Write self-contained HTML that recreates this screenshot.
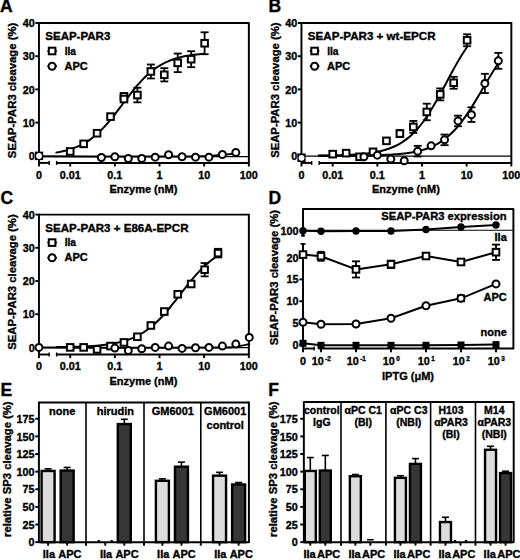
<!DOCTYPE html>
<html><head><meta charset="utf-8"><style>
html,body{margin:0;padding:0;background:#fff;}
svg{display:block;}
text{font-family:"Liberation Sans",sans-serif;font-weight:bold;stroke:#000;stroke-width:0.35px;fill:#000;}
</style></head><body>
<svg width="520" height="560" viewBox="0 0 520 560">
<rect width="520" height="560" fill="#fff"/>
<text x="0.00" y="12.30" font-size="17.5" text-anchor="start"  >A</text>
<text x="268.40" y="12.30" font-size="17.5" text-anchor="start"  >B</text>
<text x="0.60" y="204.00" font-size="17.5" text-anchor="start"  >C</text>
<text x="268.40" y="204.40" font-size="17.5" text-anchor="start"  >D</text>
<text x="0.60" y="396.10" font-size="17.5" text-anchor="start"  >E</text>
<text x="268.20" y="395.80" font-size="17.5" text-anchor="start"  >F</text>
<g>
<line x1="38.95" y1="23.00" x2="248.85" y2="23.00" stroke="#000" stroke-width="1.95" />
<line x1="38.95" y1="22.25" x2="38.95" y2="166.50" stroke="#000" stroke-width="1.95" />
<line x1="248.85" y1="22.25" x2="248.85" y2="166.50" stroke="#000" stroke-width="1.95" />
<line x1="38.95" y1="162.90" x2="49.20" y2="162.90" stroke="#000" stroke-width="1.95" />
<line x1="49.20" y1="160.90" x2="49.20" y2="164.90" stroke="#000" stroke-width="1.4" />
<line x1="56.60" y1="162.90" x2="248.85" y2="162.90" stroke="#000" stroke-width="1.95" />
<line x1="56.60" y1="160.90" x2="56.60" y2="164.90" stroke="#000" stroke-width="1.4" />
<line x1="70.20" y1="162.90" x2="70.20" y2="166.50" stroke="#000" stroke-width="1.95" />
<line x1="114.85" y1="162.90" x2="114.85" y2="166.50" stroke="#000" stroke-width="1.95" />
<line x1="159.50" y1="162.90" x2="159.50" y2="166.50" stroke="#000" stroke-width="1.95" />
<line x1="204.15" y1="162.90" x2="204.15" y2="166.50" stroke="#000" stroke-width="1.95" />
<text x="38.95" y="178.60" font-size="10.8" text-anchor="middle"  >0</text>
<text x="70.20" y="178.60" font-size="10.8" text-anchor="middle"  >0.01</text>
<text x="114.85" y="178.60" font-size="10.8" text-anchor="middle"  >0.1</text>
<text x="159.50" y="178.60" font-size="10.8" text-anchor="middle"  >1</text>
<text x="204.15" y="178.60" font-size="10.8" text-anchor="middle"  >10</text>
<text x="248.80" y="178.60" font-size="10.8" text-anchor="middle"  >100</text>
<text x="143.40" y="193.20" font-size="11" text-anchor="middle"  >Enzyme (nM)</text>
<line x1="35.35" y1="155.80" x2="38.95" y2="155.80" stroke="#000" stroke-width="1.95" />
<text x="34.75" y="159.90" font-size="10.8" text-anchor="end"  >0</text>
<line x1="35.35" y1="122.60" x2="38.95" y2="122.60" stroke="#000" stroke-width="1.95" />
<text x="34.75" y="126.70" font-size="10.8" text-anchor="end"  >10</text>
<line x1="35.35" y1="89.40" x2="38.95" y2="89.40" stroke="#000" stroke-width="1.95" />
<text x="34.75" y="93.50" font-size="10.8" text-anchor="end"  >20</text>
<line x1="35.35" y1="56.20" x2="38.95" y2="56.20" stroke="#000" stroke-width="1.95" />
<text x="34.75" y="60.30" font-size="10.8" text-anchor="end"  >30</text>
<line x1="35.35" y1="23.00" x2="38.95" y2="23.00" stroke="#000" stroke-width="1.95" />
<text x="34.75" y="27.10" font-size="10.8" text-anchor="end"  >40</text>
<text transform="translate(16.00,90.45) rotate(-90)" font-size="11.3" text-anchor="middle"  >SEAP-PAR3 cleavage (%)</text>
<text x="45.30" y="40.40" font-size="11" text-anchor="start"  textLength="65.0" lengthAdjust="spacingAndGlyphs">SEAP-PAR3</text>
<line x1="47.30" y1="51.00" x2="57.00" y2="51.00" stroke="#000" stroke-width="1.5" />
<rect x="48.80" y="47.70" width="6.6" height="6.6" fill="#fff" stroke="#000" stroke-width="2.0"/>
<text x="64.70" y="54.60" font-size="11" text-anchor="start"  textLength="11.3" lengthAdjust="spacingAndGlyphs">IIa</text>
<line x1="47.30" y1="66.20" x2="57.00" y2="66.20" stroke="#000" stroke-width="1.5" />
<circle cx="52.10" cy="66.20" r="3.5" fill="#fff" stroke="#000" stroke-width="2.0"/>
<text x="64.60" y="69.80" font-size="11" text-anchor="start"  >APC</text>
<line x1="42.95" y1="156.60" x2="248.85" y2="156.60" stroke="#000" stroke-width="1.1" />
<path d="M56.37,152.52 C56.98,152.41 58.84,152.10 60.07,151.86 C61.31,151.62 62.54,151.36 63.78,151.07 C65.01,150.78 66.25,150.47 67.49,150.13 C68.72,149.78 69.96,149.41 71.19,149.01 C72.43,148.60 73.66,148.17 74.90,147.69 C76.13,147.21 77.37,146.70 78.60,146.14 C79.84,145.58 81.07,144.98 82.31,144.33 C83.55,143.68 84.78,142.99 86.02,142.23 C87.25,141.48 88.49,140.68 89.72,139.82 C90.96,138.96 92.19,138.04 93.43,137.06 C94.66,136.08 95.90,135.05 97.13,133.95 C98.37,132.85 99.60,131.69 100.84,130.47 C102.08,129.25 103.31,127.97 104.55,126.64 C105.78,125.30 107.02,123.91 108.25,122.47 C109.49,121.03 110.72,119.54 111.96,118.01 C113.19,116.49 114.43,114.91 115.66,113.32 C116.90,111.73 118.14,110.09 119.37,108.46 C120.61,106.83 121.84,105.17 123.08,103.52 C124.31,101.88 125.55,100.22 126.78,98.59 C128.02,96.97 129.25,95.34 130.49,93.76 C131.72,92.18 132.96,90.62 134.19,89.11 C135.43,87.60 136.67,86.12 137.90,84.70 C139.14,83.28 140.37,81.91 141.61,80.60 C142.84,79.29 144.08,78.03 145.31,76.83 C146.55,75.64 147.78,74.50 149.02,73.43 C150.25,72.35 151.49,71.34 152.72,70.39 C153.96,69.43 155.20,68.54 156.43,67.70 C157.67,66.86 158.90,66.08 160.14,65.35 C161.37,64.61 162.61,63.94 163.84,63.31 C165.08,62.67 166.31,62.09 167.55,61.55 C168.78,61.01 170.02,60.51 171.26,60.05 C172.49,59.59 173.73,59.17 174.96,58.77 C176.20,58.38 177.43,58.02 178.67,57.69 C179.90,57.36 181.14,57.06 182.37,56.78 C183.61,56.50 184.84,56.25 186.08,56.02 C187.31,55.78 188.55,55.57 189.79,55.38 C191.02,55.18 192.26,55.00 193.49,54.84 C194.73,54.68 195.96,54.53 197.20,54.39 C198.43,54.26 199.67,54.13 200.90,54.02 C202.14,53.91 203.99,53.76 204.61,53.71" fill="none" stroke="#000" stroke-width="2.0" stroke-linecap="round"/>
<path d="M43.00,156.30 C55.83,156.35 95.50,156.58 120.00,156.60 C144.50,156.62 174.17,156.57 190.00,156.40 C205.83,156.23 207.42,156.07 215.00,155.60 C222.58,155.13 232.08,153.93 235.50,153.60" fill="none" stroke="#000" stroke-width="2.0" stroke-linecap="round"/>
<line x1="137.40" y1="87.74" x2="137.40" y2="102.35" stroke="#000" stroke-width="1.8" />
<line x1="133.40" y1="87.74" x2="141.40" y2="87.74" stroke="#000" stroke-width="1.8" />
<line x1="133.40" y1="102.35" x2="141.40" y2="102.35" stroke="#000" stroke-width="1.8" />
<line x1="150.85" y1="64.50" x2="150.85" y2="78.44" stroke="#000" stroke-width="1.8" />
<line x1="146.85" y1="64.50" x2="154.85" y2="64.50" stroke="#000" stroke-width="1.8" />
<line x1="146.85" y1="78.44" x2="154.85" y2="78.44" stroke="#000" stroke-width="1.8" />
<line x1="164.29" y1="68.15" x2="164.29" y2="81.43" stroke="#000" stroke-width="1.8" />
<line x1="160.29" y1="68.15" x2="168.29" y2="68.15" stroke="#000" stroke-width="1.8" />
<line x1="160.29" y1="81.43" x2="168.29" y2="81.43" stroke="#000" stroke-width="1.8" />
<line x1="177.73" y1="53.54" x2="177.73" y2="72.14" stroke="#000" stroke-width="1.8" />
<line x1="173.73" y1="53.54" x2="181.73" y2="53.54" stroke="#000" stroke-width="1.8" />
<line x1="173.73" y1="72.14" x2="181.73" y2="72.14" stroke="#000" stroke-width="1.8" />
<line x1="191.17" y1="51.22" x2="191.17" y2="67.16" stroke="#000" stroke-width="1.8" />
<line x1="187.17" y1="51.22" x2="195.17" y2="51.22" stroke="#000" stroke-width="1.8" />
<line x1="187.17" y1="67.16" x2="195.17" y2="67.16" stroke="#000" stroke-width="1.8" />
<line x1="204.61" y1="32.30" x2="204.61" y2="54.21" stroke="#000" stroke-width="1.8" />
<line x1="200.61" y1="32.30" x2="208.61" y2="32.30" stroke="#000" stroke-width="1.8" />
<line x1="200.61" y1="54.21" x2="208.61" y2="54.21" stroke="#000" stroke-width="1.8" />
<rect x="34.85" y="151.60" width="8.3" height="8.5" fill="#000"/>
<circle cx="39.05" cy="156.00" r="2.9" fill="#fff"/>
<rect x="120.66" y="93.07" width="6.6" height="6.6" fill="#fff" stroke="#000" stroke-width="2.0"/>
<rect x="66.90" y="148.18" width="6.6" height="6.6" fill="#fff" stroke="#000" stroke-width="2.0"/>
<rect x="80.34" y="140.55" width="6.6" height="6.6" fill="#fff" stroke="#000" stroke-width="2.0"/>
<rect x="93.78" y="129.92" width="6.6" height="6.6" fill="#fff" stroke="#000" stroke-width="2.0"/>
<rect x="107.22" y="113.32" width="6.6" height="6.6" fill="#fff" stroke="#000" stroke-width="2.0"/>
<rect x="120.66" y="95.73" width="6.6" height="6.6" fill="#fff" stroke="#000" stroke-width="2.0"/>
<rect x="134.10" y="91.74" width="6.6" height="6.6" fill="#fff" stroke="#000" stroke-width="2.0"/>
<rect x="147.55" y="68.17" width="6.6" height="6.6" fill="#fff" stroke="#000" stroke-width="2.0"/>
<rect x="160.99" y="71.49" width="6.6" height="6.6" fill="#fff" stroke="#000" stroke-width="2.0"/>
<rect x="174.43" y="59.54" width="6.6" height="6.6" fill="#fff" stroke="#000" stroke-width="2.0"/>
<rect x="187.87" y="55.89" width="6.6" height="6.6" fill="#fff" stroke="#000" stroke-width="2.0"/>
<rect x="201.31" y="39.95" width="6.6" height="6.6" fill="#fff" stroke="#000" stroke-width="2.0"/>
<circle cx="101.41" cy="157.46" r="3.5" fill="#fff" stroke="#000" stroke-width="2.0"/>
<circle cx="114.85" cy="156.80" r="3.5" fill="#fff" stroke="#000" stroke-width="2.0"/>
<circle cx="128.29" cy="158.46" r="3.5" fill="#fff" stroke="#000" stroke-width="2.0"/>
<circle cx="141.73" cy="158.46" r="3.5" fill="#fff" stroke="#000" stroke-width="2.0"/>
<circle cx="155.17" cy="157.13" r="3.5" fill="#fff" stroke="#000" stroke-width="2.0"/>
<circle cx="168.61" cy="154.80" r="3.5" fill="#fff" stroke="#000" stroke-width="2.0"/>
<circle cx="182.05" cy="156.80" r="3.5" fill="#fff" stroke="#000" stroke-width="2.0"/>
<circle cx="195.50" cy="157.13" r="3.5" fill="#fff" stroke="#000" stroke-width="2.0"/>
<circle cx="208.94" cy="157.13" r="3.5" fill="#fff" stroke="#000" stroke-width="2.0"/>
<circle cx="222.38" cy="154.47" r="3.5" fill="#fff" stroke="#000" stroke-width="2.0"/>
<circle cx="235.82" cy="152.48" r="3.5" fill="#fff" stroke="#000" stroke-width="2.0"/>
</g>
<line x1="301.45" y1="23.00" x2="511.35" y2="23.00" stroke="#000" stroke-width="1.95" />
<line x1="301.45" y1="22.25" x2="301.45" y2="166.50" stroke="#000" stroke-width="1.95" />
<line x1="511.35" y1="22.25" x2="511.35" y2="166.50" stroke="#000" stroke-width="1.95" />
<line x1="301.45" y1="162.90" x2="311.70" y2="162.90" stroke="#000" stroke-width="1.95" />
<line x1="311.70" y1="160.90" x2="311.70" y2="164.90" stroke="#000" stroke-width="1.4" />
<line x1="319.10" y1="162.90" x2="511.35" y2="162.90" stroke="#000" stroke-width="1.95" />
<line x1="319.10" y1="160.90" x2="319.10" y2="164.90" stroke="#000" stroke-width="1.4" />
<line x1="332.70" y1="162.90" x2="332.70" y2="166.50" stroke="#000" stroke-width="1.95" />
<line x1="377.35" y1="162.90" x2="377.35" y2="166.50" stroke="#000" stroke-width="1.95" />
<line x1="422.00" y1="162.90" x2="422.00" y2="166.50" stroke="#000" stroke-width="1.95" />
<line x1="466.65" y1="162.90" x2="466.65" y2="166.50" stroke="#000" stroke-width="1.95" />
<text x="301.45" y="178.60" font-size="10.8" text-anchor="middle"  >0</text>
<text x="332.70" y="178.60" font-size="10.8" text-anchor="middle"  >0.01</text>
<text x="377.35" y="178.60" font-size="10.8" text-anchor="middle"  >0.1</text>
<text x="422.00" y="178.60" font-size="10.8" text-anchor="middle"  >1</text>
<text x="466.65" y="178.60" font-size="10.8" text-anchor="middle"  >10</text>
<text x="511.30" y="178.60" font-size="10.8" text-anchor="middle"  >100</text>
<text x="405.90" y="193.20" font-size="11" text-anchor="middle"  >Enzyme (nM)</text>
<line x1="297.85" y1="155.80" x2="301.45" y2="155.80" stroke="#000" stroke-width="1.95" />
<text x="297.25" y="159.90" font-size="10.8" text-anchor="end"  >0</text>
<line x1="297.85" y1="122.60" x2="301.45" y2="122.60" stroke="#000" stroke-width="1.95" />
<text x="297.25" y="126.70" font-size="10.8" text-anchor="end"  >10</text>
<line x1="297.85" y1="89.40" x2="301.45" y2="89.40" stroke="#000" stroke-width="1.95" />
<text x="297.25" y="93.50" font-size="10.8" text-anchor="end"  >20</text>
<line x1="297.85" y1="56.20" x2="301.45" y2="56.20" stroke="#000" stroke-width="1.95" />
<text x="297.25" y="60.30" font-size="10.8" text-anchor="end"  >30</text>
<line x1="297.85" y1="23.00" x2="301.45" y2="23.00" stroke="#000" stroke-width="1.95" />
<text x="297.25" y="27.10" font-size="10.8" text-anchor="end"  >40</text>
<text transform="translate(279.10,90.15) rotate(-90)" font-size="11.3" text-anchor="middle"  >SEAP-PAR3 cleavage (%)</text>
<text x="307.80" y="40.40" font-size="11" text-anchor="start"  textLength="127.8" lengthAdjust="spacingAndGlyphs">SEAP-PAR3 + wt-EPCR</text>
<line x1="309.80" y1="51.00" x2="319.50" y2="51.00" stroke="#000" stroke-width="1.5" />
<rect x="311.30" y="47.70" width="6.6" height="6.6" fill="#fff" stroke="#000" stroke-width="2.0"/>
<text x="327.20" y="54.60" font-size="11" text-anchor="start"  textLength="11.3" lengthAdjust="spacingAndGlyphs">IIa</text>
<line x1="309.80" y1="66.20" x2="319.50" y2="66.20" stroke="#000" stroke-width="1.5" />
<circle cx="314.60" cy="66.20" r="3.5" fill="#fff" stroke="#000" stroke-width="2.0"/>
<text x="327.10" y="69.80" font-size="11" text-anchor="start"  >APC</text>
<line x1="305.45" y1="156.10" x2="511.35" y2="156.10" stroke="#000" stroke-width="1.1" />
<path d="M318.87,155.60 C319.48,155.59 321.34,155.57 322.57,155.55 C323.81,155.54 325.04,155.52 326.28,155.50 C327.51,155.48 328.75,155.46 329.99,155.44 C331.22,155.41 332.46,155.39 333.69,155.36 C334.93,155.33 336.16,155.30 337.40,155.27 C338.63,155.24 339.87,155.20 341.10,155.16 C342.34,155.12 343.57,155.07 344.81,155.02 C346.05,154.98 347.28,154.92 348.52,154.86 C349.75,154.80 350.99,154.74 352.22,154.67 C353.46,154.59 354.69,154.52 355.93,154.43 C357.16,154.34 358.40,154.25 359.63,154.14 C360.87,154.04 362.10,153.93 363.34,153.80 C364.58,153.67 365.81,153.54 367.05,153.39 C368.28,153.24 369.52,153.07 370.75,152.89 C371.99,152.71 373.22,152.51 374.46,152.29 C375.69,152.07 376.93,151.84 378.16,151.57 C379.40,151.31 380.64,151.03 381.87,150.71 C383.11,150.40 384.34,150.06 385.58,149.69 C386.81,149.31 388.05,148.91 389.28,148.47 C390.52,148.02 391.75,147.54 392.99,147.01 C394.22,146.49 395.46,145.92 396.69,145.30 C397.93,144.67 399.17,144.01 400.40,143.27 C401.64,142.54 402.87,141.76 404.11,140.90 C405.34,140.05 406.58,139.14 407.81,138.15 C409.05,137.16 410.28,136.10 411.52,134.96 C412.75,133.82 413.99,132.61 415.22,131.31 C416.46,130.00 417.70,128.63 418.93,127.16 C420.17,125.69 421.40,124.14 422.64,122.50 C423.87,120.86 425.11,119.14 426.34,117.33 C427.58,115.53 428.81,113.64 430.05,111.68 C431.28,109.72 432.52,107.68 433.76,105.58 C434.99,103.49 436.23,101.31 437.46,99.11 C438.70,96.91 439.93,94.64 441.17,92.36 C442.40,90.08 443.64,87.75 444.87,85.43 C446.11,83.12 447.34,80.77 448.58,78.46 C449.81,76.15 451.05,73.83 452.29,71.56 C453.52,69.30 454.76,67.05 455.99,64.87 C457.23,62.68 458.46,60.54 459.70,58.47 C460.93,56.41 462.17,54.40 463.40,52.47 C464.64,50.55 466.49,47.85 467.11,46.93" fill="none" stroke="#000" stroke-width="2.0" stroke-linecap="round"/>
<path d="M318.87,155.77 C319.61,155.77 321.86,155.77 323.35,155.76 C324.85,155.76 326.34,155.76 327.84,155.75 C329.34,155.75 330.83,155.75 332.33,155.74 C333.82,155.74 335.32,155.73 336.81,155.73 C338.31,155.72 339.80,155.71 341.30,155.71 C342.79,155.70 344.29,155.69 345.79,155.68 C347.28,155.67 348.78,155.66 350.27,155.65 C351.77,155.64 353.26,155.63 354.76,155.62 C356.25,155.60 357.75,155.59 359.24,155.57 C360.74,155.55 362.23,155.53 363.73,155.51 C365.23,155.48 366.72,155.46 368.22,155.43 C369.71,155.40 371.21,155.37 372.70,155.34 C374.20,155.30 375.69,155.26 377.19,155.21 C378.68,155.17 380.18,155.12 381.68,155.06 C383.17,155.01 384.67,154.94 386.16,154.87 C387.66,154.80 389.15,154.72 390.65,154.63 C392.14,154.54 393.64,154.45 395.13,154.33 C396.63,154.22 398.13,154.10 399.62,153.96 C401.12,153.82 402.61,153.66 404.11,153.48 C405.60,153.31 407.10,153.12 408.59,152.90 C410.09,152.67 411.58,152.44 413.08,152.16 C414.57,151.89 416.07,151.59 417.57,151.25 C419.06,150.90 420.56,150.53 422.05,150.11 C423.55,149.69 425.04,149.23 426.54,148.71 C428.03,148.19 429.53,147.62 431.02,146.98 C432.52,146.35 434.02,145.66 435.51,144.88 C437.01,144.10 438.50,143.26 440.00,142.32 C441.49,141.39 442.99,140.37 444.48,139.25 C445.98,138.13 447.47,136.92 448.97,135.60 C450.47,134.28 451.96,132.85 453.46,131.31 C454.95,129.77 456.45,128.12 457.94,126.35 C459.44,124.59 460.93,122.70 462.43,120.71 C463.92,118.72 465.42,116.62 466.91,114.42 C468.41,112.23 469.91,109.93 471.40,107.57 C472.90,105.21 474.39,102.74 475.89,100.26 C477.38,97.78 478.88,95.22 480.37,92.68 C481.87,90.13 483.36,87.54 484.86,85.00 C486.36,82.47 487.85,79.92 489.35,77.45 C490.84,74.98 492.34,72.54 493.83,70.20 C495.33,67.86 497.57,64.55 498.32,63.42" fill="none" stroke="#000" stroke-width="2.0" stroke-linecap="round"/>
<line x1="399.90" y1="130.24" x2="399.90" y2="136.88" stroke="#000" stroke-width="1.8" />
<line x1="395.90" y1="130.24" x2="403.90" y2="130.24" stroke="#000" stroke-width="1.8" />
<line x1="395.90" y1="136.88" x2="403.90" y2="136.88" stroke="#000" stroke-width="1.8" />
<line x1="413.35" y1="120.94" x2="413.35" y2="132.89" stroke="#000" stroke-width="1.8" />
<line x1="409.35" y1="120.94" x2="417.35" y2="120.94" stroke="#000" stroke-width="1.8" />
<line x1="409.35" y1="132.89" x2="417.35" y2="132.89" stroke="#000" stroke-width="1.8" />
<line x1="426.79" y1="103.68" x2="426.79" y2="120.28" stroke="#000" stroke-width="1.8" />
<line x1="422.79" y1="103.68" x2="430.79" y2="103.68" stroke="#000" stroke-width="1.8" />
<line x1="422.79" y1="120.28" x2="430.79" y2="120.28" stroke="#000" stroke-width="1.8" />
<line x1="440.23" y1="88.40" x2="440.23" y2="100.36" stroke="#000" stroke-width="1.8" />
<line x1="436.23" y1="88.40" x2="444.23" y2="88.40" stroke="#000" stroke-width="1.8" />
<line x1="436.23" y1="100.36" x2="444.23" y2="100.36" stroke="#000" stroke-width="1.8" />
<line x1="453.67" y1="76.78" x2="453.67" y2="88.74" stroke="#000" stroke-width="1.8" />
<line x1="449.67" y1="76.78" x2="457.67" y2="76.78" stroke="#000" stroke-width="1.8" />
<line x1="449.67" y1="88.74" x2="457.67" y2="88.74" stroke="#000" stroke-width="1.8" />
<line x1="467.11" y1="34.29" x2="467.11" y2="46.24" stroke="#000" stroke-width="1.8" />
<line x1="463.11" y1="34.29" x2="471.11" y2="34.29" stroke="#000" stroke-width="1.8" />
<line x1="463.11" y1="46.24" x2="471.11" y2="46.24" stroke="#000" stroke-width="1.8" />
<line x1="417.67" y1="145.84" x2="417.67" y2="156.46" stroke="#000" stroke-width="1.8" />
<line x1="413.67" y1="145.84" x2="421.67" y2="145.84" stroke="#000" stroke-width="1.8" />
<line x1="413.67" y1="156.46" x2="421.67" y2="156.46" stroke="#000" stroke-width="1.8" />
<line x1="444.55" y1="134.55" x2="444.55" y2="145.18" stroke="#000" stroke-width="1.8" />
<line x1="440.55" y1="134.55" x2="448.55" y2="134.55" stroke="#000" stroke-width="1.8" />
<line x1="440.55" y1="145.18" x2="448.55" y2="145.18" stroke="#000" stroke-width="1.8" />
<line x1="458.00" y1="115.63" x2="458.00" y2="126.25" stroke="#000" stroke-width="1.8" />
<line x1="454.00" y1="115.63" x2="462.00" y2="115.63" stroke="#000" stroke-width="1.8" />
<line x1="454.00" y1="126.25" x2="462.00" y2="126.25" stroke="#000" stroke-width="1.8" />
<line x1="471.44" y1="107.33" x2="471.44" y2="121.94" stroke="#000" stroke-width="1.8" />
<line x1="467.44" y1="107.33" x2="475.44" y2="107.33" stroke="#000" stroke-width="1.8" />
<line x1="467.44" y1="121.94" x2="475.44" y2="121.94" stroke="#000" stroke-width="1.8" />
<line x1="484.88" y1="73.80" x2="484.88" y2="93.05" stroke="#000" stroke-width="1.8" />
<line x1="480.88" y1="73.80" x2="488.88" y2="73.80" stroke="#000" stroke-width="1.8" />
<line x1="480.88" y1="93.05" x2="488.88" y2="93.05" stroke="#000" stroke-width="1.8" />
<line x1="498.32" y1="52.88" x2="498.32" y2="68.82" stroke="#000" stroke-width="1.8" />
<line x1="494.32" y1="52.88" x2="502.32" y2="52.88" stroke="#000" stroke-width="1.8" />
<line x1="494.32" y1="68.82" x2="502.32" y2="68.82" stroke="#000" stroke-width="1.8" />
<rect x="297.35" y="153.43" width="8.3" height="8.5" fill="#000"/>
<circle cx="301.55" cy="157.83" r="2.9" fill="#fff"/>
<rect x="329.40" y="150.84" width="6.6" height="6.6" fill="#fff" stroke="#000" stroke-width="2.0"/>
<rect x="342.84" y="149.84" width="6.6" height="6.6" fill="#fff" stroke="#000" stroke-width="2.0"/>
<rect x="356.28" y="153.50" width="6.6" height="6.6" fill="#fff" stroke="#000" stroke-width="2.0"/>
<rect x="369.72" y="148.52" width="6.6" height="6.6" fill="#fff" stroke="#000" stroke-width="2.0"/>
<rect x="383.16" y="137.56" width="6.6" height="6.6" fill="#fff" stroke="#000" stroke-width="2.0"/>
<rect x="396.60" y="130.26" width="6.6" height="6.6" fill="#fff" stroke="#000" stroke-width="2.0"/>
<rect x="410.05" y="123.62" width="6.6" height="6.6" fill="#fff" stroke="#000" stroke-width="2.0"/>
<rect x="423.49" y="108.68" width="6.6" height="6.6" fill="#fff" stroke="#000" stroke-width="2.0"/>
<rect x="436.93" y="91.08" width="6.6" height="6.6" fill="#fff" stroke="#000" stroke-width="2.0"/>
<rect x="450.37" y="79.46" width="6.6" height="6.6" fill="#fff" stroke="#000" stroke-width="2.0"/>
<rect x="463.81" y="36.96" width="6.6" height="6.6" fill="#fff" stroke="#000" stroke-width="2.0"/>
<circle cx="363.91" cy="156.80" r="3.5" fill="#fff" stroke="#000" stroke-width="2.0"/>
<circle cx="377.35" cy="155.14" r="3.5" fill="#fff" stroke="#000" stroke-width="2.0"/>
<circle cx="390.79" cy="159.12" r="3.5" fill="#fff" stroke="#000" stroke-width="2.0"/>
<circle cx="404.23" cy="160.78" r="3.5" fill="#fff" stroke="#000" stroke-width="2.0"/>
<circle cx="417.67" cy="151.15" r="3.5" fill="#fff" stroke="#000" stroke-width="2.0"/>
<circle cx="431.11" cy="145.84" r="3.5" fill="#fff" stroke="#000" stroke-width="2.0"/>
<circle cx="444.55" cy="139.86" r="3.5" fill="#fff" stroke="#000" stroke-width="2.0"/>
<circle cx="458.00" cy="120.94" r="3.5" fill="#fff" stroke="#000" stroke-width="2.0"/>
<circle cx="471.44" cy="114.63" r="3.5" fill="#fff" stroke="#000" stroke-width="2.0"/>
<circle cx="484.88" cy="83.42" r="3.5" fill="#fff" stroke="#000" stroke-width="2.0"/>
<circle cx="498.32" cy="60.85" r="3.5" fill="#fff" stroke="#000" stroke-width="2.0"/>
<line x1="38.95" y1="214.60" x2="248.85" y2="214.60" stroke="#000" stroke-width="1.95" />
<line x1="38.95" y1="213.85" x2="38.95" y2="358.10" stroke="#000" stroke-width="1.95" />
<line x1="248.85" y1="213.85" x2="248.85" y2="358.10" stroke="#000" stroke-width="1.95" />
<line x1="38.95" y1="354.50" x2="49.20" y2="354.50" stroke="#000" stroke-width="1.95" />
<line x1="49.20" y1="352.50" x2="49.20" y2="356.50" stroke="#000" stroke-width="1.4" />
<line x1="56.60" y1="354.50" x2="248.85" y2="354.50" stroke="#000" stroke-width="1.95" />
<line x1="56.60" y1="352.50" x2="56.60" y2="356.50" stroke="#000" stroke-width="1.4" />
<line x1="70.20" y1="354.50" x2="70.20" y2="358.10" stroke="#000" stroke-width="1.95" />
<line x1="114.85" y1="354.50" x2="114.85" y2="358.10" stroke="#000" stroke-width="1.95" />
<line x1="159.50" y1="354.50" x2="159.50" y2="358.10" stroke="#000" stroke-width="1.95" />
<line x1="204.15" y1="354.50" x2="204.15" y2="358.10" stroke="#000" stroke-width="1.95" />
<text x="38.95" y="370.20" font-size="10.8" text-anchor="middle"  >0</text>
<text x="70.20" y="370.20" font-size="10.8" text-anchor="middle"  >0.01</text>
<text x="114.85" y="370.20" font-size="10.8" text-anchor="middle"  >0.1</text>
<text x="159.50" y="370.20" font-size="10.8" text-anchor="middle"  >1</text>
<text x="204.15" y="370.20" font-size="10.8" text-anchor="middle"  >10</text>
<text x="248.80" y="370.20" font-size="10.8" text-anchor="middle"  >100</text>
<text x="143.40" y="384.80" font-size="11" text-anchor="middle"  >Enzyme (nM)</text>
<line x1="35.35" y1="347.40" x2="38.95" y2="347.40" stroke="#000" stroke-width="1.95" />
<text x="34.75" y="351.50" font-size="10.8" text-anchor="end"  >0</text>
<line x1="35.35" y1="314.20" x2="38.95" y2="314.20" stroke="#000" stroke-width="1.95" />
<text x="34.75" y="318.30" font-size="10.8" text-anchor="end"  >10</text>
<line x1="35.35" y1="281.00" x2="38.95" y2="281.00" stroke="#000" stroke-width="1.95" />
<text x="34.75" y="285.10" font-size="10.8" text-anchor="end"  >20</text>
<line x1="35.35" y1="247.80" x2="38.95" y2="247.80" stroke="#000" stroke-width="1.95" />
<text x="34.75" y="251.90" font-size="10.8" text-anchor="end"  >30</text>
<line x1="35.35" y1="214.60" x2="38.95" y2="214.60" stroke="#000" stroke-width="1.95" />
<text x="34.75" y="218.70" font-size="10.8" text-anchor="end"  >40</text>
<text transform="translate(16.00,282.05) rotate(-90)" font-size="11.3" text-anchor="middle"  >SEAP-PAR3 cleavage (%)</text>
<text x="45.30" y="232.00" font-size="11" text-anchor="start"  textLength="143.2" lengthAdjust="spacingAndGlyphs">SEAP-PAR3 + E86A-EPCR</text>
<line x1="47.30" y1="242.60" x2="57.00" y2="242.60" stroke="#000" stroke-width="1.5" />
<rect x="48.80" y="239.30" width="6.6" height="6.6" fill="#fff" stroke="#000" stroke-width="2.0"/>
<text x="64.70" y="246.20" font-size="11" text-anchor="start"  textLength="11.3" lengthAdjust="spacingAndGlyphs">IIa</text>
<line x1="47.30" y1="257.80" x2="57.00" y2="257.80" stroke="#000" stroke-width="1.5" />
<circle cx="52.10" cy="257.80" r="3.5" fill="#fff" stroke="#000" stroke-width="2.0"/>
<text x="64.60" y="261.40" font-size="11" text-anchor="start"  >APC</text>
<line x1="42.95" y1="347.60" x2="248.85" y2="347.60" stroke="#000" stroke-width="1.1" />
<path d="M56.37,347.16 C57.04,347.15 59.06,347.12 60.41,347.10 C61.76,347.08 63.10,347.06 64.45,347.04 C65.80,347.01 67.15,346.99 68.49,346.96 C69.84,346.93 71.19,346.90 72.54,346.86 C73.88,346.83 75.23,346.79 76.58,346.75 C77.93,346.70 79.27,346.66 80.62,346.60 C81.97,346.55 83.31,346.49 84.66,346.43 C86.01,346.37 87.36,346.30 88.70,346.22 C90.05,346.14 91.40,346.06 92.75,345.97 C94.09,345.87 95.44,345.77 96.79,345.66 C98.14,345.54 99.48,345.42 100.83,345.28 C102.18,345.15 103.52,345.00 104.87,344.83 C106.22,344.66 107.57,344.49 108.91,344.28 C110.26,344.08 111.61,343.87 112.96,343.63 C114.30,343.38 115.65,343.13 117.00,342.84 C118.35,342.55 119.69,342.23 121.04,341.89 C122.39,341.54 123.74,341.17 125.08,340.76 C126.43,340.34 127.78,339.90 129.12,339.41 C130.47,338.92 131.82,338.40 133.17,337.82 C134.51,337.24 135.86,336.62 137.21,335.95 C138.56,335.27 139.90,334.55 141.25,333.76 C142.60,332.97 143.95,332.13 145.29,331.23 C146.64,330.32 147.99,329.36 149.34,328.32 C150.68,327.29 152.03,326.19 153.38,325.02 C154.72,323.86 156.07,322.62 157.42,321.33 C158.77,320.03 160.11,318.66 161.46,317.24 C162.81,315.81 164.16,314.32 165.50,312.78 C166.85,311.25 168.20,309.65 169.55,308.01 C170.89,306.38 172.24,304.69 173.59,302.99 C174.94,301.29 176.28,299.55 177.63,297.81 C178.98,296.07 180.32,294.30 181.67,292.55 C183.02,290.81 184.37,289.05 185.71,287.33 C187.06,285.62 188.41,283.91 189.76,282.25 C191.10,280.59 192.45,278.95 193.80,277.38 C195.15,275.81 196.49,274.28 197.84,272.81 C199.19,271.35 200.54,269.94 201.88,268.60 C203.23,267.25 204.58,265.97 205.92,264.76 C207.27,263.55 208.62,262.41 209.97,261.33 C211.31,260.25 212.66,259.24 214.01,258.29 C215.36,257.34 217.38,256.07 218.05,255.63" fill="none" stroke="#000" stroke-width="2.0" stroke-linecap="round"/>
<path d="M43.00,347.60 C60.83,347.63 120.17,347.80 150.00,347.80 C179.83,347.80 207.67,347.80 222.00,347.60 C236.33,347.40 231.45,347.18 236.00,346.60 C240.55,346.02 247.08,344.52 249.30,344.10" fill="none" stroke="#000" stroke-width="2.0" stroke-linecap="round"/>
<line x1="204.61" y1="263.07" x2="204.61" y2="276.35" stroke="#000" stroke-width="1.8" />
<line x1="200.61" y1="263.07" x2="208.61" y2="263.07" stroke="#000" stroke-width="1.8" />
<line x1="200.61" y1="276.35" x2="208.61" y2="276.35" stroke="#000" stroke-width="1.8" />
<line x1="218.05" y1="248.80" x2="218.05" y2="257.43" stroke="#000" stroke-width="1.8" />
<line x1="214.05" y1="248.80" x2="222.05" y2="248.80" stroke="#000" stroke-width="1.8" />
<line x1="214.05" y1="257.43" x2="222.05" y2="257.43" stroke="#000" stroke-width="1.8" />
<rect x="66.90" y="344.10" width="6.6" height="6.6" fill="#fff" stroke="#000" stroke-width="2.0"/>
<rect x="80.34" y="344.10" width="6.6" height="6.6" fill="#fff" stroke="#000" stroke-width="2.0"/>
<rect x="93.78" y="346.09" width="6.6" height="6.6" fill="#fff" stroke="#000" stroke-width="2.0"/>
<rect x="107.22" y="342.77" width="6.6" height="6.6" fill="#fff" stroke="#000" stroke-width="2.0"/>
<rect x="120.66" y="339.12" width="6.6" height="6.6" fill="#fff" stroke="#000" stroke-width="2.0"/>
<rect x="134.10" y="333.48" width="6.6" height="6.6" fill="#fff" stroke="#000" stroke-width="2.0"/>
<rect x="147.55" y="322.19" width="6.6" height="6.6" fill="#fff" stroke="#000" stroke-width="2.0"/>
<rect x="160.99" y="308.24" width="6.6" height="6.6" fill="#fff" stroke="#000" stroke-width="2.0"/>
<rect x="174.43" y="290.98" width="6.6" height="6.6" fill="#fff" stroke="#000" stroke-width="2.0"/>
<rect x="187.87" y="280.69" width="6.6" height="6.6" fill="#fff" stroke="#000" stroke-width="2.0"/>
<rect x="201.31" y="266.41" width="6.6" height="6.6" fill="#fff" stroke="#000" stroke-width="2.0"/>
<rect x="214.75" y="249.81" width="6.6" height="6.6" fill="#fff" stroke="#000" stroke-width="2.0"/>
<circle cx="38.95" cy="347.40" r="3.5" fill="#fff" stroke="#000" stroke-width="2.0"/>
<circle cx="114.85" cy="348.06" r="3.5" fill="#fff" stroke="#000" stroke-width="2.0"/>
<circle cx="128.29" cy="350.39" r="3.5" fill="#fff" stroke="#000" stroke-width="2.0"/>
<circle cx="141.73" cy="348.73" r="3.5" fill="#fff" stroke="#000" stroke-width="2.0"/>
<circle cx="155.17" cy="347.40" r="3.5" fill="#fff" stroke="#000" stroke-width="2.0"/>
<circle cx="168.61" cy="346.07" r="3.5" fill="#fff" stroke="#000" stroke-width="2.0"/>
<circle cx="182.05" cy="348.40" r="3.5" fill="#fff" stroke="#000" stroke-width="2.0"/>
<circle cx="195.50" cy="347.73" r="3.5" fill="#fff" stroke="#000" stroke-width="2.0"/>
<circle cx="208.94" cy="347.40" r="3.5" fill="#fff" stroke="#000" stroke-width="2.0"/>
<circle cx="222.38" cy="346.07" r="3.5" fill="#fff" stroke="#000" stroke-width="2.0"/>
<circle cx="235.82" cy="344.08" r="3.5" fill="#fff" stroke="#000" stroke-width="2.0"/>
<circle cx="249.26" cy="337.44" r="3.5" fill="#fff" stroke="#000" stroke-width="2.0"/>
<line x1="303.00" y1="209.00" x2="513.40" y2="209.00" stroke="#000" stroke-width="1.95" />
<line x1="303.00" y1="208.25" x2="303.00" y2="236.50" stroke="#000" stroke-width="1.95" />
<line x1="303.00" y1="243.50" x2="303.00" y2="352.30" stroke="#000" stroke-width="1.95" />
<line x1="513.40" y1="208.25" x2="513.40" y2="349.25" stroke="#000" stroke-width="1.95" />
<line x1="303.00" y1="348.50" x2="314.20" y2="348.50" stroke="#000" stroke-width="1.95" />
<line x1="314.20" y1="346.50" x2="314.20" y2="350.50" stroke="#000" stroke-width="1.4" />
<line x1="318.50" y1="348.50" x2="513.40" y2="348.50" stroke="#000" stroke-width="1.95" />
<line x1="321.00" y1="348.50" x2="321.00" y2="352.30" stroke="#000" stroke-width="1.95" />
<line x1="356.00" y1="348.50" x2="356.00" y2="352.30" stroke="#000" stroke-width="1.95" />
<line x1="391.00" y1="348.50" x2="391.00" y2="352.30" stroke="#000" stroke-width="1.95" />
<line x1="426.00" y1="348.50" x2="426.00" y2="352.30" stroke="#000" stroke-width="1.95" />
<line x1="461.00" y1="348.50" x2="461.00" y2="352.30" stroke="#000" stroke-width="1.95" />
<line x1="496.00" y1="348.50" x2="496.00" y2="352.30" stroke="#000" stroke-width="1.95" />
<line x1="299.40" y1="345.00" x2="303.00" y2="345.00" stroke="#000" stroke-width="1.95" />
<text x="298.40" y="349.10" font-size="10.8" text-anchor="end"  >0</text>
<line x1="299.40" y1="323.12" x2="303.00" y2="323.12" stroke="#000" stroke-width="1.95" />
<text x="298.40" y="327.23" font-size="10.8" text-anchor="end"  >5</text>
<line x1="299.40" y1="301.25" x2="303.00" y2="301.25" stroke="#000" stroke-width="1.95" />
<text x="298.40" y="305.35" font-size="10.8" text-anchor="end"  >10</text>
<line x1="299.40" y1="279.38" x2="303.00" y2="279.38" stroke="#000" stroke-width="1.95" />
<text x="298.40" y="283.48" font-size="10.8" text-anchor="end"  >15</text>
<line x1="299.40" y1="257.50" x2="303.00" y2="257.50" stroke="#000" stroke-width="1.95" />
<text x="298.40" y="261.60" font-size="10.8" text-anchor="end"  >20</text>
<line x1="299.40" y1="230.70" x2="303.00" y2="230.70" stroke="#000" stroke-width="1.95" />
<text x="298.40" y="234.50" font-size="10.8" text-anchor="end"  >100</text>
<text x="303.00" y="364.90" font-size="10.8" text-anchor="middle"  >0</text>
<text x="321.30" y="364.9" font-size="10.8" text-anchor="middle" >10<tspan dx="1.4" dy="-3.6" font-size="6.3">-2</tspan></text>
<text x="356.30" y="364.9" font-size="10.8" text-anchor="middle" >10<tspan dx="1.4" dy="-3.6" font-size="6.3">-1</tspan></text>
<text x="391.30" y="364.9" font-size="10.8" text-anchor="middle" >10<tspan dx="1.4" dy="-3.6" font-size="6.3">0</tspan></text>
<text x="426.30" y="364.9" font-size="10.8" text-anchor="middle" >10<tspan dx="1.4" dy="-3.6" font-size="6.3">1</tspan></text>
<text x="461.30" y="364.9" font-size="10.8" text-anchor="middle" >10<tspan dx="1.4" dy="-3.6" font-size="6.3">2</tspan></text>
<text x="496.30" y="364.9" font-size="10.8" text-anchor="middle" >10<tspan dx="1.4" dy="-3.6" font-size="6.3">3</tspan></text>
<text x="408.00" y="380.00" font-size="11" text-anchor="middle"  >IPTG (μM)</text>
<text transform="translate(278.20,277.60) rotate(-90)" font-size="11.3" text-anchor="middle"  >SEAP-PAR3 cleavage (%)</text>
<line x1="303.00" y1="230.20" x2="513.40" y2="230.20" stroke="#000" stroke-width="1.1" />
<polyline points="303.00,230.80 321.00,231.30 356.00,231.00 391.00,231.00 426.00,229.50 461.00,227.00 496.00,225.00" fill="none" stroke="#000" stroke-width="2.0" stroke-linejoin="round" />
<line x1="303.00" y1="230.80" x2="303.00" y2="235.60" stroke="#000" stroke-width="1.8" />
<line x1="301.00" y1="230.80" x2="305.00" y2="230.80" stroke="#000" stroke-width="1.8" />
<line x1="301.00" y1="235.60" x2="305.00" y2="235.60" stroke="#000" stroke-width="1.8" />
<circle cx="303.00" cy="230.80" r="2.7" fill="#000" stroke="#000" stroke-width="2.0"/>
<circle cx="321.00" cy="231.30" r="2.7" fill="#000" stroke="#000" stroke-width="2.0"/>
<circle cx="356.00" cy="231.00" r="2.7" fill="#000" stroke="#000" stroke-width="2.0"/>
<circle cx="391.00" cy="231.00" r="2.7" fill="#000" stroke="#000" stroke-width="2.0"/>
<circle cx="426.00" cy="229.50" r="2.7" fill="#000" stroke="#000" stroke-width="2.0"/>
<circle cx="461.00" cy="227.00" r="2.7" fill="#000" stroke="#000" stroke-width="2.0"/>
<circle cx="496.00" cy="225.00" r="2.7" fill="#000" stroke="#000" stroke-width="2.0"/>
<polyline points="303.00,254.60 321.00,256.20 356.00,269.40 391.00,264.30 426.00,256.00 461.00,262.00 496.00,252.20" fill="none" stroke="#000" stroke-width="2.0" stroke-linejoin="round" />
<line x1="303.00" y1="243.90" x2="303.00" y2="254.60" stroke="#000" stroke-width="1.7" />
<line x1="300.50" y1="243.90" x2="305.50" y2="243.90" stroke="#000" stroke-width="1.7" />
<line x1="321.00" y1="251.80" x2="321.00" y2="260.80" stroke="#000" stroke-width="1.8" />
<line x1="317.50" y1="251.80" x2="324.50" y2="251.80" stroke="#000" stroke-width="1.8" />
<line x1="317.50" y1="260.80" x2="324.50" y2="260.80" stroke="#000" stroke-width="1.8" />
<line x1="356.00" y1="261.30" x2="356.00" y2="277.50" stroke="#000" stroke-width="1.8" />
<line x1="352.00" y1="261.30" x2="360.00" y2="261.30" stroke="#000" stroke-width="1.8" />
<line x1="352.00" y1="277.50" x2="360.00" y2="277.50" stroke="#000" stroke-width="1.8" />
<line x1="391.00" y1="260.60" x2="391.00" y2="268.00" stroke="#000" stroke-width="1.8" />
<line x1="387.00" y1="260.60" x2="395.00" y2="260.60" stroke="#000" stroke-width="1.8" />
<line x1="387.00" y1="268.00" x2="395.00" y2="268.00" stroke="#000" stroke-width="1.8" />
<line x1="496.00" y1="244.60" x2="496.00" y2="259.90" stroke="#000" stroke-width="1.8" />
<line x1="492.00" y1="244.60" x2="500.00" y2="244.60" stroke="#000" stroke-width="1.8" />
<line x1="492.00" y1="259.90" x2="500.00" y2="259.90" stroke="#000" stroke-width="1.8" />
<rect x="299.70" y="251.30" width="6.6" height="6.6" fill="#fff" stroke="#000" stroke-width="2.0"/>
<rect x="317.70" y="252.90" width="6.6" height="6.6" fill="#fff" stroke="#000" stroke-width="2.0"/>
<rect x="352.70" y="266.10" width="6.6" height="6.6" fill="#fff" stroke="#000" stroke-width="2.0"/>
<rect x="387.70" y="261.00" width="6.6" height="6.6" fill="#fff" stroke="#000" stroke-width="2.0"/>
<rect x="422.70" y="252.70" width="6.6" height="6.6" fill="#fff" stroke="#000" stroke-width="2.0"/>
<rect x="457.70" y="258.70" width="6.6" height="6.6" fill="#fff" stroke="#000" stroke-width="2.0"/>
<rect x="492.70" y="248.90" width="6.6" height="6.6" fill="#fff" stroke="#000" stroke-width="2.0"/>
<polyline points="303.00,322.30 321.00,324.20 356.00,324.00 391.00,318.20 426.00,305.80 461.00,298.30 496.00,283.90" fill="none" stroke="#000" stroke-width="2.0" stroke-linejoin="round" />
<line x1="461.00" y1="295.30" x2="461.00" y2="301.30" stroke="#000" stroke-width="1.8" />
<line x1="457.00" y1="295.30" x2="465.00" y2="295.30" stroke="#000" stroke-width="1.8" />
<line x1="457.00" y1="301.30" x2="465.00" y2="301.30" stroke="#000" stroke-width="1.8" />
<circle cx="303.00" cy="322.30" r="3.5" fill="#fff" stroke="#000" stroke-width="2.0"/>
<circle cx="321.00" cy="324.20" r="3.5" fill="#fff" stroke="#000" stroke-width="2.0"/>
<circle cx="356.00" cy="324.00" r="3.5" fill="#fff" stroke="#000" stroke-width="2.0"/>
<circle cx="391.00" cy="318.20" r="3.5" fill="#fff" stroke="#000" stroke-width="2.0"/>
<circle cx="426.00" cy="305.80" r="3.5" fill="#fff" stroke="#000" stroke-width="2.0"/>
<circle cx="461.00" cy="298.30" r="3.5" fill="#fff" stroke="#000" stroke-width="2.0"/>
<circle cx="496.00" cy="283.90" r="3.5" fill="#fff" stroke="#000" stroke-width="2.0"/>
<polyline points="303.00,343.30 321.00,345.30 356.00,345.30 391.00,345.30 426.00,345.30 461.00,345.00 496.00,344.60" fill="none" stroke="#000" stroke-width="2.0" stroke-linejoin="round" />
<rect x="300.50" y="340.80" width="5.0" height="5.0" fill="#000" stroke="#000" stroke-width="2.0"/>
<rect x="318.50" y="342.80" width="5.0" height="5.0" fill="#000" stroke="#000" stroke-width="2.0"/>
<rect x="353.50" y="342.80" width="5.0" height="5.0" fill="#000" stroke="#000" stroke-width="2.0"/>
<rect x="388.50" y="342.80" width="5.0" height="5.0" fill="#000" stroke="#000" stroke-width="2.0"/>
<rect x="423.50" y="342.80" width="5.0" height="5.0" fill="#000" stroke="#000" stroke-width="2.0"/>
<rect x="458.50" y="342.50" width="5.0" height="5.0" fill="#000" stroke="#000" stroke-width="2.0"/>
<rect x="493.50" y="342.10" width="5.0" height="5.0" fill="#000" stroke="#000" stroke-width="2.0"/>
<text x="506.60" y="219.60" font-size="11" text-anchor="end"  textLength="125.3" lengthAdjust="spacingAndGlyphs">SEAP-PAR3 expression</text>
<text x="506.80" y="240.90" font-size="11" text-anchor="end"  >IIa</text>
<text x="506.80" y="301.40" font-size="11" text-anchor="end"  >APC</text>
<text x="506.80" y="335.60" font-size="11" text-anchor="end"  >none</text>
<line x1="38.90" y1="402.40" x2="248.90" y2="402.40" stroke="#000" stroke-width="1.95" />
<line x1="38.90" y1="401.65" x2="38.90" y2="542.90" stroke="#000" stroke-width="1.95" />
<line x1="248.90" y1="401.65" x2="248.90" y2="542.90" stroke="#000" stroke-width="1.95" />
<line x1="38.90" y1="542.15" x2="248.90" y2="542.15" stroke="#000" stroke-width="1.95" />
<line x1="48.10" y1="542.15" x2="48.10" y2="545.65" stroke="#000" stroke-width="1.95" />
<line x1="67.15" y1="542.15" x2="67.15" y2="545.65" stroke="#000" stroke-width="1.95" />
<line x1="86.00" y1="542.15" x2="86.00" y2="545.65" stroke="#000" stroke-width="1.95" />
<line x1="105.25" y1="542.15" x2="105.25" y2="545.65" stroke="#000" stroke-width="1.95" />
<line x1="124.30" y1="542.15" x2="124.30" y2="545.65" stroke="#000" stroke-width="1.95" />
<line x1="144.00" y1="542.15" x2="144.00" y2="545.65" stroke="#000" stroke-width="1.95" />
<line x1="162.40" y1="542.15" x2="162.40" y2="545.65" stroke="#000" stroke-width="1.95" />
<line x1="181.45" y1="542.15" x2="181.45" y2="545.65" stroke="#000" stroke-width="1.95" />
<line x1="200.80" y1="542.15" x2="200.80" y2="545.65" stroke="#000" stroke-width="1.95" />
<line x1="219.55" y1="542.15" x2="219.55" y2="545.65" stroke="#000" stroke-width="1.95" />
<line x1="238.60" y1="542.15" x2="238.60" y2="545.65" stroke="#000" stroke-width="1.95" />
<line x1="86.00" y1="402.40" x2="86.00" y2="542.15" stroke="#000" stroke-width="1.6" />
<line x1="144.00" y1="402.40" x2="144.00" y2="542.15" stroke="#000" stroke-width="1.6" />
<line x1="200.80" y1="402.40" x2="200.80" y2="542.15" stroke="#000" stroke-width="1.6" />
<line x1="35.30" y1="542.15" x2="38.90" y2="542.15" stroke="#000" stroke-width="1.95" />
<text x="34.40" y="546.25" font-size="10.8" text-anchor="end"  >0</text>
<line x1="35.30" y1="524.52" x2="38.90" y2="524.52" stroke="#000" stroke-width="1.95" />
<text x="34.40" y="528.62" font-size="10.8" text-anchor="end"  >25</text>
<line x1="35.30" y1="506.90" x2="38.90" y2="506.90" stroke="#000" stroke-width="1.95" />
<text x="34.40" y="511.00" font-size="10.8" text-anchor="end"  >50</text>
<line x1="35.30" y1="489.27" x2="38.90" y2="489.27" stroke="#000" stroke-width="1.95" />
<text x="34.40" y="493.38" font-size="10.8" text-anchor="end"  >75</text>
<line x1="35.30" y1="471.65" x2="38.90" y2="471.65" stroke="#000" stroke-width="1.95" />
<text x="34.40" y="475.75" font-size="10.8" text-anchor="end"  >100</text>
<line x1="35.30" y1="454.02" x2="38.90" y2="454.02" stroke="#000" stroke-width="1.95" />
<text x="34.40" y="458.12" font-size="10.8" text-anchor="end"  >125</text>
<line x1="35.30" y1="436.40" x2="38.90" y2="436.40" stroke="#000" stroke-width="1.95" />
<text x="34.40" y="440.50" font-size="10.8" text-anchor="end"  >150</text>
<line x1="35.30" y1="418.77" x2="38.90" y2="418.77" stroke="#000" stroke-width="1.95" />
<text x="34.40" y="422.88" font-size="10.8" text-anchor="end"  >175</text>
<text transform="translate(11.40,469.20) rotate(-90)" font-size="11.3" text-anchor="middle"  >relative SP3 cleavage (%)</text>
<line x1="48.10" y1="468.83" x2="48.10" y2="470.94" stroke="#000" stroke-width="1.6" />
<line x1="44.60" y1="468.83" x2="51.60" y2="468.83" stroke="#000" stroke-width="1.6" />
<line x1="44.60" y1="470.94" x2="51.60" y2="470.94" stroke="#000" stroke-width="1.6" />
<rect x="41.60" y="470.94" width="13.0" height="71.20" fill="#dcdcdc" stroke="#000" stroke-width="2.4"/>
<line x1="67.15" y1="467.42" x2="67.15" y2="470.59" stroke="#000" stroke-width="1.6" />
<line x1="63.65" y1="467.42" x2="70.65" y2="467.42" stroke="#000" stroke-width="1.6" />
<line x1="63.65" y1="470.59" x2="70.65" y2="470.59" stroke="#000" stroke-width="1.6" />
<rect x="60.65" y="470.59" width="13.0" height="71.56" fill="#363636" stroke="#000" stroke-width="2.4"/>
<rect x="97.45" y="540.05" width="2.6" height="2.1" rx="0.8" fill="#000"/>
<rect x="110.45" y="540.05" width="2.6" height="2.1" rx="0.8" fill="#000"/>
<line x1="124.30" y1="419.27" x2="124.30" y2="424.06" stroke="#000" stroke-width="1.6" />
<line x1="120.80" y1="419.27" x2="127.80" y2="419.27" stroke="#000" stroke-width="1.6" />
<line x1="120.80" y1="424.06" x2="127.80" y2="424.06" stroke="#000" stroke-width="1.6" />
<rect x="117.80" y="424.06" width="13.0" height="118.09" fill="#363636" stroke="#000" stroke-width="2.4"/>
<line x1="162.40" y1="478.84" x2="162.40" y2="480.81" stroke="#000" stroke-width="1.6" />
<line x1="158.90" y1="478.84" x2="165.90" y2="478.84" stroke="#000" stroke-width="1.6" />
<line x1="158.90" y1="480.81" x2="165.90" y2="480.81" stroke="#000" stroke-width="1.6" />
<rect x="155.90" y="480.81" width="13.0" height="61.33" fill="#dcdcdc" stroke="#000" stroke-width="2.4"/>
<line x1="181.45" y1="462.13" x2="181.45" y2="466.71" stroke="#000" stroke-width="1.6" />
<line x1="177.95" y1="462.13" x2="184.95" y2="462.13" stroke="#000" stroke-width="1.6" />
<line x1="177.95" y1="466.71" x2="184.95" y2="466.71" stroke="#000" stroke-width="1.6" />
<rect x="174.95" y="466.71" width="13.0" height="75.44" fill="#363636" stroke="#000" stroke-width="2.4"/>
<line x1="219.55" y1="472.35" x2="219.55" y2="475.67" stroke="#000" stroke-width="1.6" />
<line x1="216.05" y1="472.35" x2="223.05" y2="472.35" stroke="#000" stroke-width="1.6" />
<line x1="216.05" y1="475.67" x2="223.05" y2="475.67" stroke="#000" stroke-width="1.6" />
<rect x="213.05" y="475.67" width="13.0" height="66.48" fill="#dcdcdc" stroke="#000" stroke-width="2.4"/>
<line x1="238.60" y1="482.51" x2="238.60" y2="484.48" stroke="#000" stroke-width="1.6" />
<line x1="235.10" y1="482.51" x2="242.10" y2="482.51" stroke="#000" stroke-width="1.6" />
<line x1="235.10" y1="484.48" x2="242.10" y2="484.48" stroke="#000" stroke-width="1.6" />
<rect x="232.10" y="484.48" width="13.0" height="57.67" fill="#363636" stroke="#000" stroke-width="2.4"/>
<text x="48.90" y="558.30" font-size="11" text-anchor="middle"  >IIa</text>
<text x="69.85" y="558.30" font-size="11" text-anchor="middle"  >APC</text>
<text x="106.05" y="558.30" font-size="11" text-anchor="middle"  >IIa</text>
<text x="127.00" y="558.30" font-size="11" text-anchor="middle"  >APC</text>
<text x="163.20" y="558.30" font-size="11" text-anchor="middle"  >IIa</text>
<text x="184.15" y="558.30" font-size="11" text-anchor="middle"  >APC</text>
<text x="220.35" y="558.30" font-size="11" text-anchor="middle"  >IIa</text>
<text x="241.30" y="558.30" font-size="11" text-anchor="middle"  >APC</text>
<text x="62.20" y="415.40" font-size="11" text-anchor="middle"  >none</text>
<text x="115.30" y="415.40" font-size="11" text-anchor="middle"  >hirudin</text>
<text x="172.80" y="415.40" font-size="11" text-anchor="middle"  >GM6001</text>
<text x="225.20" y="415.40" font-size="11" text-anchor="middle"  >GM6001</text>
<text x="225.20" y="429.10" font-size="11" text-anchor="middle"  >control</text>
<line x1="303.85" y1="402.00" x2="513.70" y2="402.00" stroke="#000" stroke-width="1.95" />
<line x1="303.85" y1="401.25" x2="303.85" y2="542.90" stroke="#000" stroke-width="1.95" />
<line x1="513.70" y1="401.25" x2="513.70" y2="542.90" stroke="#000" stroke-width="1.95" />
<line x1="303.85" y1="542.15" x2="513.70" y2="542.15" stroke="#000" stroke-width="1.95" />
<line x1="310.30" y1="542.15" x2="310.30" y2="545.65" stroke="#000" stroke-width="1.95" />
<line x1="325.32" y1="542.15" x2="325.32" y2="545.65" stroke="#000" stroke-width="1.95" />
<line x1="341.00" y1="542.15" x2="341.00" y2="545.65" stroke="#000" stroke-width="1.95" />
<line x1="355.36" y1="542.15" x2="355.36" y2="545.65" stroke="#000" stroke-width="1.95" />
<line x1="370.38" y1="542.15" x2="370.38" y2="545.65" stroke="#000" stroke-width="1.95" />
<line x1="385.90" y1="542.15" x2="385.90" y2="545.65" stroke="#000" stroke-width="1.95" />
<line x1="400.42" y1="542.15" x2="400.42" y2="545.65" stroke="#000" stroke-width="1.95" />
<line x1="415.44" y1="542.15" x2="415.44" y2="545.65" stroke="#000" stroke-width="1.95" />
<line x1="430.60" y1="542.15" x2="430.60" y2="545.65" stroke="#000" stroke-width="1.95" />
<line x1="445.48" y1="542.15" x2="445.48" y2="545.65" stroke="#000" stroke-width="1.95" />
<line x1="460.50" y1="542.15" x2="460.50" y2="545.65" stroke="#000" stroke-width="1.95" />
<line x1="475.50" y1="542.15" x2="475.50" y2="545.65" stroke="#000" stroke-width="1.95" />
<line x1="490.54" y1="542.15" x2="490.54" y2="545.65" stroke="#000" stroke-width="1.95" />
<line x1="505.56" y1="542.15" x2="505.56" y2="545.65" stroke="#000" stroke-width="1.95" />
<line x1="341.00" y1="402.00" x2="341.00" y2="542.15" stroke="#000" stroke-width="1.6" />
<line x1="385.90" y1="402.00" x2="385.90" y2="542.15" stroke="#000" stroke-width="1.6" />
<line x1="430.60" y1="402.00" x2="430.60" y2="542.15" stroke="#000" stroke-width="1.6" />
<line x1="475.50" y1="402.00" x2="475.50" y2="542.15" stroke="#000" stroke-width="1.6" />
<line x1="300.25" y1="542.15" x2="303.85" y2="542.15" stroke="#000" stroke-width="1.95" />
<text x="297.80" y="546.25" font-size="10.8" text-anchor="end"  >0</text>
<line x1="300.25" y1="524.52" x2="303.85" y2="524.52" stroke="#000" stroke-width="1.95" />
<text x="297.80" y="528.62" font-size="10.8" text-anchor="end"  >25</text>
<line x1="300.25" y1="506.90" x2="303.85" y2="506.90" stroke="#000" stroke-width="1.95" />
<text x="297.80" y="511.00" font-size="10.8" text-anchor="end"  >50</text>
<line x1="300.25" y1="489.27" x2="303.85" y2="489.27" stroke="#000" stroke-width="1.95" />
<text x="297.80" y="493.38" font-size="10.8" text-anchor="end"  >75</text>
<line x1="300.25" y1="471.65" x2="303.85" y2="471.65" stroke="#000" stroke-width="1.95" />
<text x="297.80" y="475.75" font-size="10.8" text-anchor="end"  >100</text>
<line x1="300.25" y1="454.02" x2="303.85" y2="454.02" stroke="#000" stroke-width="1.95" />
<text x="297.80" y="458.12" font-size="10.8" text-anchor="end"  >125</text>
<line x1="300.25" y1="436.40" x2="303.85" y2="436.40" stroke="#000" stroke-width="1.95" />
<text x="297.80" y="440.50" font-size="10.8" text-anchor="end"  >150</text>
<line x1="300.25" y1="418.77" x2="303.85" y2="418.77" stroke="#000" stroke-width="1.95" />
<text x="297.80" y="422.88" font-size="10.8" text-anchor="end"  >175</text>
<text transform="translate(277.20,469.20) rotate(-90)" font-size="11.3" text-anchor="middle"  >relative SP3 cleavage (%)</text>
<line x1="310.30" y1="457.55" x2="310.30" y2="470.94" stroke="#000" stroke-width="1.6" />
<line x1="306.80" y1="457.55" x2="313.80" y2="457.55" stroke="#000" stroke-width="1.6" />
<line x1="306.80" y1="470.94" x2="313.80" y2="470.94" stroke="#000" stroke-width="1.6" />
<rect x="304.80" y="470.94" width="11.0" height="71.20" fill="#dcdcdc" stroke="#000" stroke-width="2.4"/>
<line x1="325.32" y1="455.44" x2="325.32" y2="470.59" stroke="#000" stroke-width="1.6" />
<line x1="321.82" y1="455.44" x2="328.82" y2="455.44" stroke="#000" stroke-width="1.6" />
<line x1="321.82" y1="470.59" x2="328.82" y2="470.59" stroke="#000" stroke-width="1.6" />
<rect x="319.82" y="470.59" width="11.0" height="71.56" fill="#363636" stroke="#000" stroke-width="2.4"/>
<line x1="355.36" y1="474.54" x2="355.36" y2="476.23" stroke="#000" stroke-width="1.6" />
<line x1="351.86" y1="474.54" x2="358.86" y2="474.54" stroke="#000" stroke-width="1.6" />
<line x1="351.86" y1="476.23" x2="358.86" y2="476.23" stroke="#000" stroke-width="1.6" />
<rect x="349.86" y="476.23" width="11.0" height="65.92" fill="#dcdcdc" stroke="#000" stroke-width="2.4"/>
<line x1="367.08" y1="539.75" x2="373.68" y2="539.75" stroke="#000" stroke-width="1.6" />
<line x1="400.42" y1="475.74" x2="400.42" y2="477.85" stroke="#000" stroke-width="1.6" />
<line x1="396.92" y1="475.74" x2="403.92" y2="475.74" stroke="#000" stroke-width="1.6" />
<line x1="396.92" y1="477.85" x2="403.92" y2="477.85" stroke="#000" stroke-width="1.6" />
<rect x="394.92" y="477.85" width="11.0" height="64.30" fill="#dcdcdc" stroke="#000" stroke-width="2.4"/>
<line x1="415.44" y1="458.61" x2="415.44" y2="463.89" stroke="#000" stroke-width="1.6" />
<line x1="411.94" y1="458.61" x2="418.94" y2="458.61" stroke="#000" stroke-width="1.6" />
<line x1="411.94" y1="463.89" x2="418.94" y2="463.89" stroke="#000" stroke-width="1.6" />
<rect x="409.94" y="463.89" width="11.0" height="78.25" fill="#363636" stroke="#000" stroke-width="2.4"/>
<line x1="445.48" y1="517.26" x2="445.48" y2="522.06" stroke="#000" stroke-width="1.6" />
<line x1="441.98" y1="517.26" x2="448.98" y2="517.26" stroke="#000" stroke-width="1.6" />
<line x1="441.98" y1="522.06" x2="448.98" y2="522.06" stroke="#000" stroke-width="1.6" />
<rect x="439.98" y="522.06" width="11.0" height="20.09" fill="#dcdcdc" stroke="#000" stroke-width="2.4"/>
<rect x="453.70" y="540.05" width="2.6" height="2.1" rx="0.8" fill="#000"/>
<rect x="464.70" y="540.05" width="2.6" height="2.1" rx="0.8" fill="#000"/>
<line x1="490.54" y1="446.27" x2="490.54" y2="449.79" stroke="#000" stroke-width="1.6" />
<line x1="487.04" y1="446.27" x2="494.04" y2="446.27" stroke="#000" stroke-width="1.6" />
<line x1="487.04" y1="449.79" x2="494.04" y2="449.79" stroke="#000" stroke-width="1.6" />
<rect x="485.04" y="449.79" width="11.0" height="92.36" fill="#dcdcdc" stroke="#000" stroke-width="2.4"/>
<line x1="505.56" y1="471.23" x2="505.56" y2="473.06" stroke="#000" stroke-width="1.6" />
<line x1="502.06" y1="471.23" x2="509.06" y2="471.23" stroke="#000" stroke-width="1.6" />
<line x1="502.06" y1="473.06" x2="509.06" y2="473.06" stroke="#000" stroke-width="1.6" />
<rect x="500.06" y="473.06" width="11.0" height="69.09" fill="#363636" stroke="#000" stroke-width="2.4"/>
<text x="309.50" y="558.30" font-size="11" text-anchor="middle"  >IIa</text>
<text x="328.62" y="558.30" font-size="11" text-anchor="middle"  >APC</text>
<text x="354.56" y="558.30" font-size="11" text-anchor="middle"  >IIa</text>
<text x="373.68" y="558.30" font-size="11" text-anchor="middle"  >APC</text>
<text x="399.62" y="558.30" font-size="11" text-anchor="middle"  >IIa</text>
<text x="418.74" y="558.30" font-size="11" text-anchor="middle"  >APC</text>
<text x="444.68" y="558.30" font-size="11" text-anchor="middle"  >IIa</text>
<text x="463.80" y="558.30" font-size="11" text-anchor="middle"  >APC</text>
<text x="489.74" y="558.30" font-size="11" text-anchor="middle"  >IIa</text>
<text x="508.86" y="558.30" font-size="11" text-anchor="middle"  >APC</text>
<text x="321.80" y="414.20" font-size="10.5" text-anchor="middle"  >control</text>
<text x="321.80" y="426.00" font-size="10.5" text-anchor="middle"  >IgG</text>
<text x="363.20" y="414.20" font-size="10.5" text-anchor="middle"  >αPC C1</text>
<text x="363.20" y="426.00" font-size="10.5" text-anchor="middle"  >(BI)</text>
<text x="408.80" y="414.20" font-size="10.5" text-anchor="middle"  >αPC C3</text>
<text x="408.80" y="426.00" font-size="10.5" text-anchor="middle"  >(NBI)</text>
<text x="451.00" y="414.20" font-size="10.5" text-anchor="middle"  >H103</text>
<text x="451.00" y="426.00" font-size="10.5" text-anchor="middle"  >αPAR3</text>
<text x="451.00" y="437.80" font-size="10.5" text-anchor="middle"  >(BI)</text>
<text x="494.30" y="414.20" font-size="10.5" text-anchor="middle"  >M14</text>
<text x="494.30" y="426.00" font-size="10.5" text-anchor="middle"  >αPAR3</text>
<text x="494.30" y="437.80" font-size="10.5" text-anchor="middle"  >(NBI)</text>
</svg></body></html>
